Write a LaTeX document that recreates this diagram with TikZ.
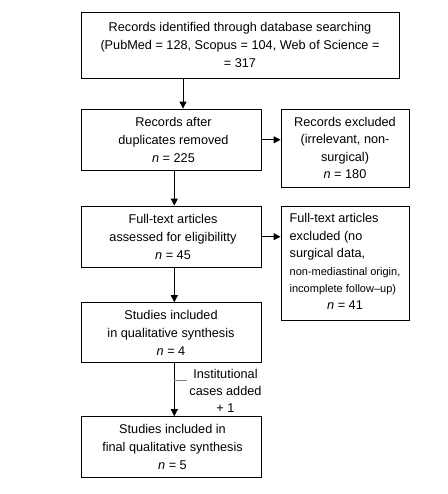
\documentclass[tikz,border=0pt]{standalone}
\usepackage{fontspec}
\setmainfont{Liberation Sans}
\usetikzlibrary{arrows.meta}
\begin{document}
\begin{tikzpicture}[x=1pt,y=-1pt,
  box/.style={draw, line width=0.9pt, inner sep=0pt, align=center, font=\fontsize{12.7}{18}\selectfont},
  arr/.style={line width=0.9pt, -{Triangle[length=7pt,width=7pt]}},
  lbl/.style={inner sep=0pt, align=center, font=\fontsize{12.7}{17}\selectfont},
  ]
\useasboundingbox (0,0) rectangle (447,494);
\node[box, minimum width=318pt, minimum height=66pt] (top) at (240,45.2)
  {Records identified through database searching\\(PubMed = 128, Scopus = 104, Web of Science =\\= 317};
\node[box, minimum width=180pt, minimum height=61.5pt] (b2) at (171,139.8)
  {\hspace*{5pt}Records after\\\hspace*{5pt}duplicates removed\\\hspace*{5pt}\textit{n} = 225};
\node[box, minimum width=128pt, minimum height=78pt, font=\fontsize{12.7}{17.5}\selectfont] (e1) at (345,148)
  {Records excluded\\(irrelevant, non-\\surgical)\\\textit{n} = 180};
\node[box, minimum width=180pt, minimum height=61.3pt] (b3) at (171,236.7)
  {\hspace*{4pt}Full-text articles\\\hspace*{4pt}assessed for eligibilitty\\\hspace*{4pt}\textit{n} = 45};
\node[box, minimum width=128pt, minimum height=114pt, font=\fontsize{12.7}{17.4}\selectfont] (e2) at (345,263)
  {\begin{tabular}{@{}l@{}}Full-text articles\\excluded (no\\surgical data,\\{\fontsize{11}{17.4}\selectfont non-mediastinal origin,}\\{\fontsize{11}{17.4}\selectfont incomplete follow–up)}\\\multicolumn{1}{@{}c@{}}{\textit{n} = 41}\end{tabular}};
\node[box, minimum width=180pt, minimum height=59.7pt] (b4) at (171,332.5)
  {Studies included\\in qualitative synthesis\\\textit{n} = 4};
\node[box, minimum width=180pt, minimum height=60.3pt] (b5) at (171,446.8)
  {\hspace*{3pt}Studies included in\\\hspace*{3pt}final qualitative synthesis\\\hspace*{3pt}\textit{n} = 5};
\draw[arr] ([xshift=12pt]b2.north |- top.south) -- ([xshift=12pt]b2.north);
\draw[arr] ([xshift=3.3pt]b2.south) -- ([xshift=3.3pt]b3.north);
\draw[arr] ([xshift=3.3pt]b3.south) -- ([xshift=3.3pt]b4.north);
\draw[arr] ([xshift=3.3pt]b4.south) -- ([xshift=3.3pt]b5.north);
\draw[arr] (b2.east) -- (b2.east -| e1.west);
\draw[arr] (b3.east) -- (b3.east -| e2.west);
\node[lbl] (lab) at (225.5,391) {Institutional\\cases added\\+ 1};
\coordinate (tA) at (174.3,380);
\coordinate (tB) at (187,380);
\draw[line width=0.6pt, gray] (tA) -- (tB);
\end{tikzpicture}
\end{document}
